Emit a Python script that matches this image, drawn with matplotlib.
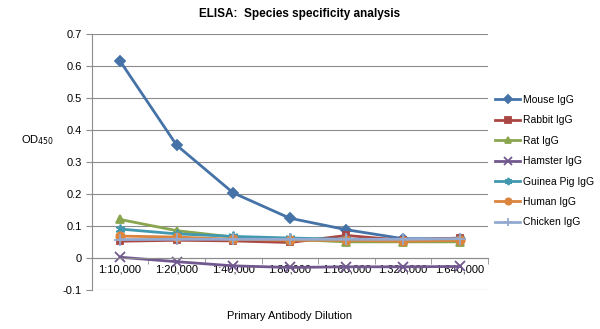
import matplotlib
matplotlib.use("Agg")
import matplotlib.pyplot as plt
import numpy as np
from matplotlib import font_manager

names = {f.name for f in font_manager.fontManager.ttflist}
base = "Liberation Sans" if "Liberation Sans" in names else "DejaVu Sans"
narrow = "Liberation Sans Narrow" if "Liberation Sans Narrow" in names else base
plt.rcParams['font.family'] = [base, 'DejaVu Sans']

dilutions = ["1:10,000", "1:20,000", "1:40,000", "1:80,000", "1:160,000", "1:320,000", "1:640,000"]
mouse = [0.615, 0.352, 0.203, 0.124, 0.088, 0.060, 0.060]
rabbit = [0.052, 0.055, 0.053, 0.048, 0.070, 0.055, 0.062]
rat = [0.120, 0.085, 0.065, 0.058, 0.050, 0.050, 0.050]
hamster = [0.002, -0.012, -0.025, -0.030, -0.028, -0.028, -0.027]
guinea_pig = [0.090, 0.075, 0.067, 0.062, 0.058, 0.057, 0.058]
human = [0.068, 0.065, 0.058, 0.055, 0.055, 0.052, 0.055]
chicken = [0.057, 0.058, 0.058, 0.058, 0.058, 0.058, 0.060]
series_names = ["Mouse IgG", "Rabbit IgG", "Rat IgG", "Hamster IgG", "Guinea Pig IgG", "Human IgG", "Chicken IgG"]
series = [mouse, rabbit, rat, hamster, guinea_pig, human, chicken]
colors = ["#4572A7", "#AA4643", "#89A54E", "#71588F", "#4198AF", "#DB843D", "#93A9CF"]
markers = ["D", "s", "^", "x", (6, 2, 0), "o", "+"]
msizes = [5, 5, 6, 7, 7, 6, 8]

fig = plt.figure(figsize=(6, 3.29), dpi=100)
ax = fig.add_axes([0.153, 0.119, 0.66, 0.778])
x = np.arange(len(dilutions))
for name, vals, c, m, ms in zip(series_names, series, colors, markers, msizes):
    ax.plot(x, vals, color=c, lw=2, marker=m, ms=ms, mew=1.3, mec=c, mfc=c, label=name)

ax.set_xlim(-0.5, len(dilutions) - 0.5)
ax.set_ylim(-0.1, 0.7)
ax.set_yticks(np.arange(-0.1, 0.71, 0.1))
ax.set_yticklabels(["-0.1", "0", "0.1", "0.2", "0.3", "0.4", "0.5", "0.6", "0.7"])
ax.grid(axis='y', color="#8c8c8c", lw=0.8)
ax.set_axisbelow(True)
for s in ["top", "right"]:
    ax.spines[s].set_visible(False)
ax.spines["left"].set_color("#8c8c8c")
ax.spines["bottom"].set_position(("data", 0))
ax.spines["bottom"].set_color("#8c8c8c")
ax.tick_params(axis='y', length=4, color="#8c8c8c", labelsize=8, pad=3)
ax.set_xticks(x)
ax.set_xticklabels(dilutions, fontsize=8)
ax.tick_params(axis='x', which='major', length=0, pad=5)
ax.set_xticks(np.arange(-0.5, len(dilutions), 1.0), minor=True)
ax.tick_params(axis='x', which='minor', length=4, color="#8c8c8c")

fig.text(0.5, 0.975, "ELISA:  Species specificity analysis", ha='center', va='top',
         fontsize=8.5, fontweight='bold', family=[narrow, 'DejaVu Sans'])
fig.text(0.035, 0.575, "OD$_{450}$", ha='left', va='center', fontsize=8)
fig.text(0.483, 0.025, "Primary Antibody Dilution", ha='center', va='bottom', fontsize=8)

ax.legend(loc='upper left', bbox_to_anchor=(1.0, 0.79), frameon=False, fontsize=7.5,
          handlelength=2.4, labelspacing=1.0, handletextpad=0.3, borderaxespad=0.3,
          markerscale=0.75)

fig.savefig("out.png", dpi=100)
